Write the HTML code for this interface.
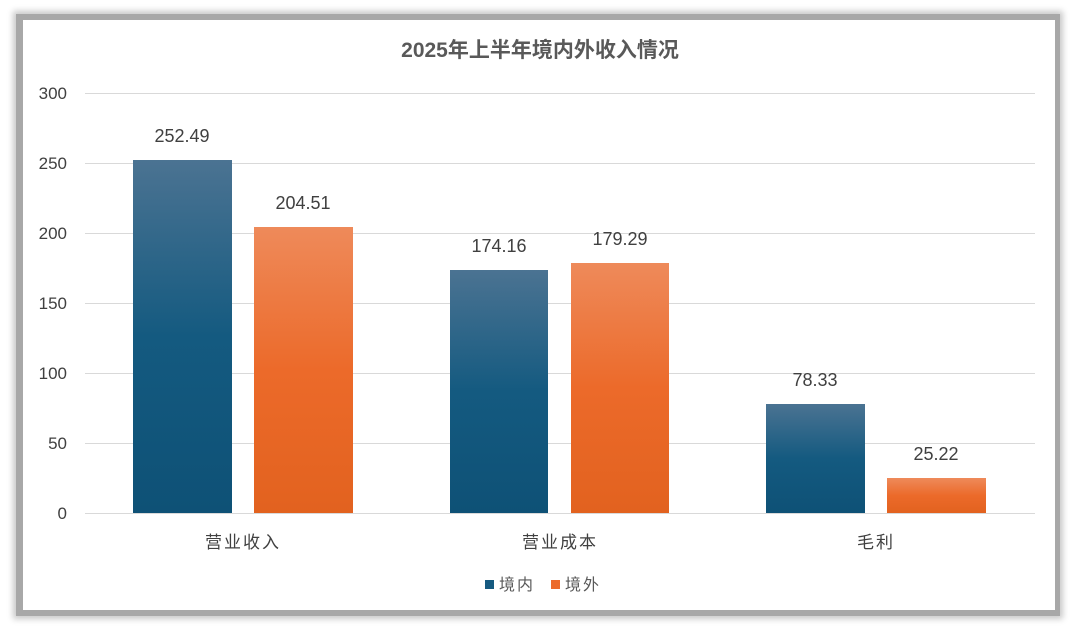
<!DOCTYPE html>
<html><head><meta charset="utf-8"><style>
body{margin:0;background:#fff;width:1080px;height:634px;overflow:hidden;font-family:"Liberation Sans","Noto Sans CJK SC",sans-serif}
.frame{position:absolute;left:16px;top:14px;width:1044px;height:602px;background:#a8a8a8;box-shadow:0 0 6px 3px #c8c8c8}
.inner{position:absolute;left:23px;top:20px;width:1032px;height:590px;background:#fff}
</style></head><body>
<div class="frame"></div><div class="inner"></div>
<svg width="1080" height="634" style="position:absolute;left:0;top:0">
<defs>
<linearGradient id="b" x1="0" y1="0" x2="0" y2="1"><stop offset="0" stop-color="#4b7392"/><stop offset="0.5" stop-color="#145a80"/><stop offset="1" stop-color="#0e5176"/></linearGradient>
<linearGradient id="o" x1="0" y1="0" x2="0" y2="1"><stop offset="0" stop-color="#ee8a5a"/><stop offset="0.5" stop-color="#ec6a2a"/><stop offset="1" stop-color="#e2621f"/></linearGradient>
</defs>
<g stroke="#d9d9d9" stroke-width="1">
<line x1="85" x2="1035" y1="93.5" y2="93.5"/><line x1="85" x2="1035" y1="163.5" y2="163.5"/><line x1="85" x2="1035" y1="233.5" y2="233.5"/><line x1="85" x2="1035" y1="303.5" y2="303.5"/><line x1="85" x2="1035" y1="373.5" y2="373.5"/><line x1="85" x2="1035" y1="443.5" y2="443.5"/><line x1="85" x2="1035" y1="513.5" y2="513.5"/>
</g>
<g font-size="17" fill="#404040" text-anchor="end">
<text x="67" y="99">300</text><text x="67" y="169">250</text><text x="67" y="239">200</text><text x="67" y="309">150</text><text x="67" y="379">100</text><text x="67" y="449">50</text><text x="67" y="519">0</text>
</g>
<rect x="133" y="160" width="99" height="353" fill="url(#b)"/>
<rect x="254" y="227" width="99" height="286" fill="url(#o)"/>
<rect x="450" y="270" width="98" height="243" fill="url(#b)"/>
<rect x="571" y="263" width="98" height="250" fill="url(#o)"/>
<rect x="766" y="404" width="99" height="109" fill="url(#b)"/>
<rect x="887" y="478" width="99" height="35" fill="url(#o)"/>
<g font-size="18" fill="#404040" text-anchor="middle">
<text x="182" y="142">252.49</text><text x="303" y="209">204.51</text>
<text x="499" y="252">174.16</text><text x="620" y="245">179.29</text>
<text x="815" y="386">78.33</text><text x="936" y="460">25.22</text>
</g>
<g font-size="17" fill="#404040" text-anchor="middle" letter-spacing="2">
<text x="243" y="548">营业收入</text><text x="560" y="548">营业成本</text><text x="876" y="548">毛利</text>
</g>
<text x="540" y="57" font-size="21" font-weight="bold" fill="#595959" text-anchor="middle">2025年上半年境内外收入情况</text>
<rect x="485" y="580" width="9" height="9" fill="#165a80"/>
<text x="499" y="590" font-size="16" fill="#595959" letter-spacing="2">境内</text>
<rect x="551" y="580" width="9" height="9" fill="#ec6a2a"/>
<text x="565" y="590" font-size="16" fill="#595959" letter-spacing="2">境外</text>
</svg>
</body></html>
